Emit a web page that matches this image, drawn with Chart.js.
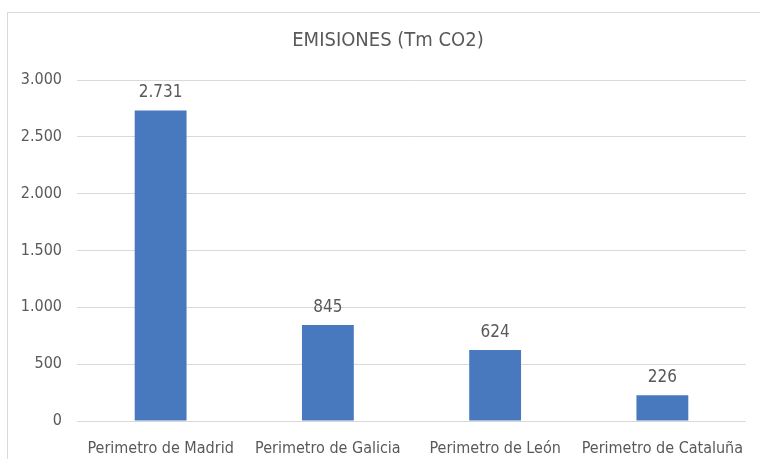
<!DOCTYPE html>
<html>
<head>
  <meta charset="utf-8"/>
  <script src="https://cdn.jsdelivr.net/npm/chart.js@4.4.1/dist/chart.umd.min.js"></script>
  <style>
    html, body { margin: 0; padding: 0; background: #fff; overflow: hidden; }
    body { width: 760px; height: 459px; position: relative; }
    #frame {
      position: absolute; left: 7px; top: 12px;
      width: 770px; height: 460px;
      border-left: 1px solid #d9d9d9; border-top: 1px solid #d9d9d9;
    }
    #wrap { position: absolute; left: 0; top: 0; width: 760px; height: 446px; }
  </style>
</head>
<body>
  <div id="frame"><div id="wrap"><canvas id="chart"></canvas></div></div>
  <script>
    var categories = ["Perimetro de Madrid", "Perimetro de Galicia", "Perimetro de León", "Perimetro de Cataluña"];
    var emissions = [2731, 845, 624, 226];
    var yTicks = [0, 500, 1000, 1500, 2000, 2500, 3000];

    var FONT = "'Liberation Sans Narrow', 'Arial Narrow', 'DejaVu Sans Condensed', sans-serif";
    var GREY = "#595959";

    // thousands separator as a dot, the Spanish way
    function fmt(v) {
      return String(Math.round(v)).replace(/\B(?=(\d{3})+(?!\d))/g, ".");
    }

    // value labels above each bar
    var barValues = {
      id: "barValues",
      afterDatasetsDraw: function(chart) {
        var ctx = chart.ctx;
        var meta = chart.getDatasetMeta(0);
        ctx.save();
        ctx.font = "17px " + FONT;
        ctx.fillStyle = GREY;
        ctx.textAlign = "center";
        ctx.textBaseline = "bottom";
        meta.data.forEach(function(bar, i) {
          ctx.fillText(fmt(chart.data.datasets[0].data[i]), bar.x, bar.y - 9);
        });
        ctx.restore();
      }
    };

    new Chart(document.getElementById("chart"), {
      type: "bar",
      data: {
        labels: categories,
        datasets: [{
          data: emissions,
          backgroundColor: "#4878BE",
          barPercentage: 0.31,
          categoryPercentage: 1
        }]
      },
      options: {
        responsive: true,
        maintainAspectRatio: false,
        animation: false,
        layout: { padding: 0 },
        plugins: {
          legend: { display: false },
          tooltip: { enabled: false },
          title: {
            display: true,
            text: "EMISIONES (Tm CO2)",
            color: GREY,
            font: { family: FONT, size: 20, weight: "normal" },
            padding: { top: 16, bottom: 27 }
          }
        },
        scales: {
          x: {
            grid: { display: false },
            border: { display: false },
            ticks: { color: GREY, font: { family: FONT, size: 16 }, padding: 10, maxRotation: 0 },
            afterFit: function(s) { s.height = 38; }
          },
          y: {
            min: 0,
            max: 3000,
            grid: { color: "#d9d9d9", drawTicks: false },
            border: { display: false },
            afterBuildTicks: function(s) {
              s.ticks = yTicks.map(function(v) { return { value: v }; });
            },
            ticks: {
              color: GREY,
              font: { family: FONT, size: 16 },
              padding: 15,
              callback: function(v) { return fmt(v); }
            },
            afterFit: function(s) { s.width = 69; }
          },
          // empty right-hand axis: keeps the plot off the right edge
          // while the title stays centred on the whole canvas
          spacer: {
            position: "right",
            grid: { display: false },
            border: { display: false },
            ticks: { display: false },
            afterFit: function(s) { s.width = 22; }
          }
        }
      },
      plugins: [barValues]
    });
  </script>
</body>
</html>
